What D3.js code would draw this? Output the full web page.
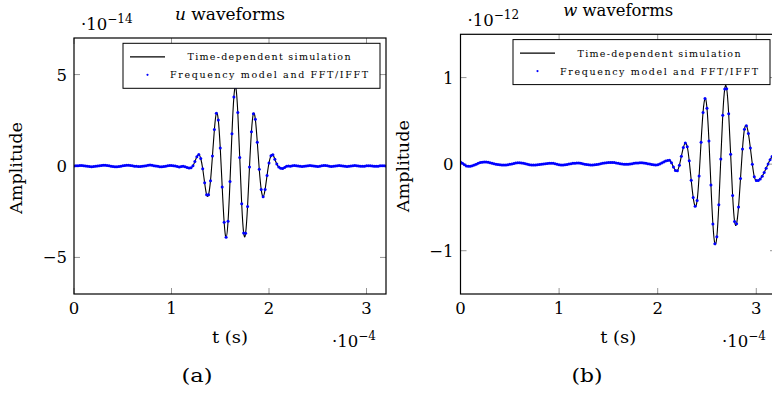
<!DOCTYPE html>
<html>
<head>
<meta charset="utf-8">
<script src="https://cdn.jsdelivr.net/npm/d3@7"></script>
<style>
  body { margin: 0; background: #fff; }
  svg text { font-family: "DejaVu Serif", "Liberation Serif", serif; fill: #000; }
</style>
</head>
<body>
<script>
const width = 772;
const height = 396;

// samples every 0.02 (x 1e-4 s), from t = 0 to t = 3.2
const dt = 0.02;

// u waveform, units of 1e-14
const uValues = [
  0.00, 0.01, 0.02, 0.03, 0.03, 0.02, 0.00, -0.02, -0.03, -0.04,
  -0.03, -0.02, 0.00, 0.02, 0.03, 0.04, 0.04, 0.03, 0.01, -0.01,
  -0.03, -0.04, -0.04, -0.03, -0.01, 0.01, 0.03, 0.04, 0.04, 0.03,
  0.01, -0.01, -0.02, -0.03, -0.03, -0.02, 0.00, 0.02, 0.04, 0.05,
  0.04, 0.02, 0.00, -0.02, -0.04, -0.04, -0.03, -0.01, 0.01, 0.03,
  0.03, 0.02, 0.00, -0.03, -0.05, -0.03, -0.02, -0.04, -0.08, -0.11,
  -0.10, 0.01, 0.24, 0.51, 0.63, 0.41, -0.15, -0.92, -1.57, -1.57,
  -0.80, 0.55, 2.00, 2.88, 2.51, 0.99, -1.15, -3.08, -3.90, -3.02,
  -0.85, 1.77, 3.78, 4.29, 2.92, 0.47, -2.06, -3.66, -3.68, -2.21,
  -0.05, 1.87, 2.86, 2.55, 1.30, -0.18, -1.28, -1.68, -1.28, -0.52,
  0.17, 0.56, 0.62, 0.37, 0.11, -0.06, -0.12, -0.14, -0.08, -0.02,
  0.00, -0.01, 0.01, 0.03, 0.02, 0.00, -0.02, -0.03, -0.02, 0.00,
  0.02, 0.03, 0.02, 0.00, -0.02, -0.03, -0.02, 0.01, 0.03, 0.03,
  0.01, -0.01, -0.03, -0.02, 0.00, 0.02, 0.03, 0.02, 0.00, -0.02,
  -0.03, -0.02, 0.00, 0.02, 0.03, 0.02, 0.00, -0.02, -0.02, -0.01,
  0.01, 0.02, 0.02, 0.00, -0.02, -0.02, -0.01, 0.01, 0.02, 0.01,
  0.00
];

// w waveform, units of 1e-12
const wValues = [
  0.025, 0.010, -0.008, -0.020, -0.025, -0.024, -0.018, -0.010, 0.000, 0.010,
  0.018, 0.023, 0.025, 0.025, 0.022, 0.017, 0.011, 0.005, 0.000, -0.005,
  -0.008, -0.010, -0.010, -0.009, -0.006, -0.002, 0.003, 0.008, 0.012, 0.015,
  0.015, 0.013, 0.009, 0.004, -0.001, -0.006, -0.009, -0.010, -0.010, -0.008,
  -0.005, -0.002, 0.002, 0.005, 0.008, 0.010, 0.011, 0.010, 0.006, 0.000,
  -0.006, -0.010, -0.011, -0.008, -0.004, 0.001, 0.005, 0.009, 0.011, 0.012,
  0.012, 0.009, 0.005, 0.000, -0.005, -0.008, -0.010, -0.010, -0.008, -0.005,
  -0.001, 0.004, 0.009, 0.013, 0.017, 0.019, 0.020, 0.020, 0.018, 0.014,
  0.010, 0.005, 0.002, 0.000, -0.001, 0.000, 0.002, 0.005, 0.009, 0.012,
  0.014, 0.015, 0.015, 0.013, 0.010, 0.006, 0.002, -0.003, -0.007, -0.010,
  -0.007, 0.001, 0.013, 0.025, 0.036, 0.043, 0.044, 0.016, -0.032, -0.072,
  -0.075, -0.014, 0.091, 0.192, 0.243, 0.201, 0.038, -0.185, -0.384, -0.486,
  -0.419, -0.136, 0.254, 0.598, 0.757, 0.647, 0.268, -0.240, -0.692, -0.920,
  -0.839, -0.470, 0.059, 0.564, 0.869, 0.871, 0.582, 0.113, -0.362, -0.663,
  -0.688, -0.494, -0.165, 0.176, 0.404, 0.443, 0.353, 0.187, 0.000, -0.146,
  -0.190, -0.188, -0.171, -0.140, -0.097, -0.048, 0.003, 0.050, 0.087, 0.112,
  0.120
];

const xTicks = [0, 1, 2, 3];
const uTicks = [-5, 0, 5];
const wTicks = [-1, 0, 1];
const legendLabels = ["Time-dependent simulation", "Frequency model and FFT/IFFT"];

const panels = [
  { id: "a", name: "u", values: uValues, yDomain: [-7, 7], yTicks: uTicks, exp: "\u221214",
    x0: 74, x1: 386, y0: 38, y1: 294, captionX: 197 },
  { id: "b", name: "w", values: wValues, yDomain: [-1.5, 1.5], yTicks: wTicks, exp: "\u221212",
    x0: 460.5, x1: 776, y0: 34.3, y1: 294, captionX: 587 }
];

const svg = d3.select("body").append("svg")
  .attr("width", width)
  .attr("height", height);

const fmt = (d) => d < 0 ? "\u2212" + Math.abs(d) : String(d);

panels.forEach((p) => {
  const x = d3.scaleLinear().domain([0, 3.2]).range([p.x0, p.x1]);
  const y = d3.scaleLinear().domain(p.yDomain).range([p.y1, p.y0]);
  const g = svg.append("g");
  const data = p.values.map((v, i) => [i * dt, v]);

  g.append("clipPath").attr("id", "clip-" + p.id)
    .append("rect")
    .attr("x", p.x0).attr("y", p.y0)
    .attr("width", p.x1 - p.x0).attr("height", p.y1 - p.y0);

  // inward ticks on all four sides
  const tickLen = 6;
  const ticks = g.append("g").attr("stroke", "#8a8a8a").attr("stroke-width", 0.9);
  xTicks.forEach((t) => {
    ticks.append("line").attr("x1", x(t)).attr("x2", x(t)).attr("y1", p.y1).attr("y2", p.y1 - tickLen);
    ticks.append("line").attr("x1", x(t)).attr("x2", x(t)).attr("y1", p.y0).attr("y2", p.y0 + tickLen);
  });
  p.yTicks.forEach((t) => {
    ticks.append("line").attr("x1", p.x0).attr("x2", p.x0 + tickLen).attr("y1", y(t)).attr("y2", y(t));
    ticks.append("line").attr("x1", p.x1).attr("x2", p.x1 - tickLen).attr("y1", y(t)).attr("y2", y(t));
  });

  // curves
  const plot = g.append("g").attr("clip-path", `url(#clip-${p.id})`);
  const line = d3.line()
    .x((d) => x(d[0]))
    .y((d) => y(d[1]))
    .curve(d3.curveNatural);
  plot.append("path")
    .attr("d", line(data))
    .attr("fill", "none")
    .attr("stroke", "#000")
    .attr("stroke-width", 1.1);
  plot.selectAll("circle").data(data).enter().append("circle")
    .attr("cx", (d) => x(d[0]))
    .attr("cy", (d) => y(d[1]))
    .attr("r", 1.5)
    .attr("fill", "#0000ff");

  // frame
  g.append("rect")
    .attr("x", p.x0).attr("y", p.y0)
    .attr("width", p.x1 - p.x0).attr("height", p.y1 - p.y0)
    .attr("fill", "none").attr("stroke", "#000").attr("stroke-width", 1.2);

  // tick labels
  g.selectAll(".xl").data(xTicks).enter().append("text")
    .attr("x", (d) => x(d)).attr("y", p.y1 + 19.5)
    .attr("text-anchor", "middle").attr("font-size", 16.5)
    .text(fmt);
  g.selectAll(".yl").data(p.yTicks).enter().append("text")
    .attr("x", p.x0 - 7).attr("y", (d) => y(d) + 6)
    .attr("text-anchor", "end").attr("font-size", 16.5)
    .text(fmt);

  // title
  const cx = (p.x0 + p.x1) / 2;
  const title = g.append("text")
    .attr("x", cx).attr("y", p.y0 - 18)
    .attr("text-anchor", "middle").attr("font-size", 16)
    .attr("textLength", 110).attr("lengthAdjust", "spacingAndGlyphs");
  title.append("tspan").attr("font-style", "italic").text(p.name);
  title.append("tspan").text(" waveforms");

  // y multiplier
  const ym = g.append("text")
    .attr("x", p.x0 + 7).attr("y", p.y0 - 8)
    .attr("font-size", 16.5);
  ym.append("tspan").text("\u00b710");
  ym.append("tspan").attr("font-size", 12).attr("dy", -7).text(p.exp);

  // x multiplier
  const xm = g.append("text")
    .attr("x", p.x1 - 54).attr("y", p.y1 + 52.5)
    .attr("font-size", 16.5);
  xm.append("tspan").text("\u00b710");
  xm.append("tspan").attr("font-size", 12).attr("dy", -7).text("\u22124");

  // axis labels
  g.append("text")
    .attr("x", cx).attr("y", p.y1 + 49)
    .attr("text-anchor", "middle").attr("font-size", 16)
    .attr("textLength", 36).attr("lengthAdjust", "spacingAndGlyphs")
    .text("t (s)");
  g.append("text")
    .attr("transform", `translate(${p.x0 - 52},${(p.y0 + p.y1) / 2 + 2}) rotate(-90)`)
    .attr("text-anchor", "middle").attr("font-size", 16)
    .attr("textLength", 92).attr("lengthAdjust", "spacingAndGlyphs")
    .text("Amplitude");

  // caption
  g.append("text")
    .attr("x", p.captionX).attr("y", 382)
    .attr("text-anchor", "middle").attr("font-size", 19)
    .attr("textLength", 31).attr("lengthAdjust", "spacingAndGlyphs")
    .text(`(${p.id})`);

  // legend
  const lw = 257, lh = 45;
  const lx = p.x1 - 6 - lw, ly = p.y0 + 5.3;
  const lg = g.append("g").attr("transform", `translate(${lx},${ly})`);
  lg.append("rect")
    .attr("width", lw).attr("height", lh)
    .attr("fill", "#fff").attr("stroke", "#000").attr("stroke-width", 1);
  lg.append("line")
    .attr("x1", 7).attr("x2", 42).attr("y1", 13.5).attr("y2", 13.5)
    .attr("stroke", "#000").attr("stroke-width", 1.2);
  lg.append("circle")
    .attr("cx", 24.5).attr("cy", 31.5).attr("r", 1.1).attr("fill", "#0000ff");
  const textLens = [163, 198];
  legendLabels.forEach((s, i) => {
    lg.append("text")
      .attr("x", 146).attr("y", 13.5 + i * 18 + 3.5)
      .attr("text-anchor", "middle").attr("font-size", 9.5)
      .attr("fill", "#222")
      .attr("textLength", textLens[i]).attr("lengthAdjust", "spacing")
      .text(s);
  });
});
</script>
</body>
</html>
